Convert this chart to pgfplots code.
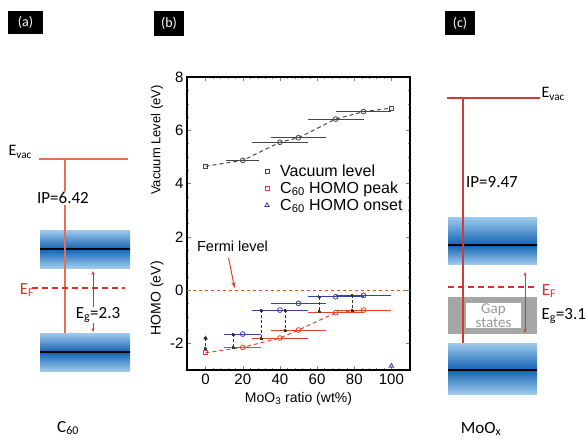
\documentclass[border=0pt]{standalone}
\usepackage{pgfplots}
\pgfplotsset{compat=1.18}
\usepackage{fontspec}
\setmainfont{Liberation Sans}
\newfontfamily\diag{Carlito}
\usetikzlibrary{arrows.meta}

\definecolor{evac}{RGB}{230,110,85}
\definecolor{evacc}{RGB}{205,60,55}
\definecolor{efred}{RGB}{215,50,40}
\definecolor{bandlight}{RGB}{160,203,236}
\definecolor{bandmid}{RGB}{18,98,180}
\definecolor{peakred}{RGB}{225,70,45}
\definecolor{onsetblue}{RGB}{55,65,170}
\definecolor{vacgray}{RGB}{70,70,70}

\newcommand{\dfont}{\diag\fontsize{17}{19}\selectfont}

\begin{document}
\begin{tikzpicture}
\useasboundingbox (0,0) rectangle (586pt,439pt);

% panels (a) and (c): drawn in pixel coordinates of the page
\begin{axis}[at={(0,0)}, anchor=south west, width=586pt, height=439pt,
  scale only axis, xmin=0, xmax=586, ymin=0, ymax=439, y dir=reverse,
  hide axis, clip=false]

% panel labels
\fill[black] (axis cs:8,11) rectangle (axis cs:43,34);
\node[white, font=\diag\fontsize{14}{16}\selectfont] at (axis cs:25.5,22.5) {(a)};
\fill[black] (axis cs:154,11) rectangle (axis cs:184,36);
\node[white, font=\diag\fontsize{14}{16}\selectfont] at (axis cs:169,23.5) {(b)};
\fill[black] (axis cs:445,11) rectangle (axis cs:475,35);
\node[white, font=\diag\fontsize{14}{16}\selectfont] at (axis cs:460,23) {(c)};

% ---- (a) C60 ----
\fill[top color=bandlight, bottom color=bandmid] (axis cs:40,230) rectangle (axis cs:130,249);
\fill[top color=bandmid, bottom color=bandlight] (axis cs:40,249) rectangle (axis cs:130,268);
\fill[top color=bandlight, bottom color=bandmid] (axis cs:40,333) rectangle (axis cs:130,352);
\fill[top color=bandmid, bottom color=bandlight] (axis cs:40,352) rectangle (axis cs:130,371);
\addplot[black, line width=1.3pt] coordinates {(40,249) (130,249)};
\addplot[black, line width=1.3pt] coordinates {(40,352) (130,352)};
\addplot[evac, line width=1.6pt] coordinates {(39,159) (128,159)};
\addplot[evac, line width=1.6pt] coordinates {(65,159) (65,333)};
\addplot[efred, line width=1.6pt, dash pattern=on 6pt off 4pt] coordinates {(32,288) (125,288)};
\addplot[efred, line width=0.9pt, {Stealth[length=4pt]}-{Stealth[length=4pt]}] coordinates {(93,271) (93,332)};
\node[anchor=west, font=\diag\fontsize{16}{18}\selectfont] at (axis cs:5,152) {E\textsubscript{vac}};
\node[font=\dfont, fill=white, inner sep=1pt] at (axis cs:63,198) {IP=6.42};
\node[efred, font=\dfont] at (axis cs:27,290) {E\textsubscript{F}};
\node[font=\dfont, fill=white, inner sep=0.5pt] at (axis cs:98,315) {E\textsubscript{g}=2.3};
\node[font=\dfont] at (axis cs:68,428) {C\textsubscript{60}};

% ---- (c) MoOx ----
\fill[top color=bandlight, bottom color=bandmid] (axis cs:448,217) rectangle (axis cs:537,245);
\fill[top color=bandmid, bottom color=bandlight] (axis cs:448,245) rectangle (axis cs:537,264);
\fill[gray!70] (axis cs:448,297) rectangle (axis cs:537,334);
\fill[white] (axis cs:466,303) rectangle (axis cs:521,328);
\fill[top color=bandlight, bottom color=bandmid] (axis cs:448,343) rectangle (axis cs:537,370);
\fill[top color=bandmid, bottom color=bandlight] (axis cs:448,370) rectangle (axis cs:537,394);
\addplot[black, line width=1.3pt] coordinates {(448,245) (537,245)};
\addplot[black, line width=1.3pt] coordinates {(448,370) (537,370)};
\addplot[evacc, line width=1.5pt] coordinates {(447,98) (540,98)};
\addplot[evacc, line width=1.5pt] coordinates {(463,98) (463,343)};
\addplot[efred, line width=1.6pt, dash pattern=on 6pt off 4pt] coordinates {(448,287) (537,287)};
\addplot[evacc, line width=1pt, {Stealth[length=4pt]}-{Stealth[length=4pt]}] coordinates {(525,272) (525,333)};
\node[anchor=west, font=\diag\fontsize{16}{18}\selectfont] at (axis cs:538,94) {E\textsubscript{vac}};
\node[font=\dfont] at (axis cs:492,182) {IP=9.47};
\node[efred, font=\dfont] at (axis cs:549,291) {E\textsubscript{F}};
\node[gray!80, font=\diag\fontsize{15}{14}\selectfont, align=center] at (axis cs:493.5,315.5) {Gap\\states};
\node[anchor=west, font=\dfont] at (axis cs:538,316) {E\textsubscript{g}=3.1};
\node[font=\dfont] at (axis cs:481,429) {MoO\textsubscript{x}};
\end{axis}

% ---- (b) energy levels vs MoO3 ratio ----
\begin{axis}[at={(187pt,69pt)}, anchor=south west, width=223pt, height=293pt,
  scale only axis, xmin=-10, xmax=110, ymin=-3, ymax=8,
  xtick={0,20,...,100}, ytick={-2,0,...,8},
  minor x tick num=4, minor y tick num=3,
  tick align=inside, major tick length=4pt, minor tick length=2pt,
  axis line style={line width=1.1pt},
  /pgf/number format/assume math mode=true,
  tick label style={font=\fontsize{15}{17}\selectfont},
  xlabel={MoO\textsubscript{3} ratio (wt\%)},
  xlabel style={font=\fontsize{14}{16}\selectfont, yshift=-1pt},
  clip=false,
  legend style={at={(rel axis cs:0.335,0.715)}, anchor=north west, draw=none,
    fill=none, font=\fontsize{16}{19}\selectfont, row sep=0pt,
    /tikz/every odd column/.append style={column sep=9pt}},
  legend cell align=left,
  error bars/error mark=none,
  error bars/error bar style={line width=1pt},
]
% Fermi level
\addplot[peakred!70!orange, line width=0.9pt, dash pattern=on 3pt off 3pt, forget plot] coordinates {(-10,0) (110,0)};

% vacuum level
\addplot[vacgray, line width=1pt, dash pattern=on 4pt off 3pt, forget plot] coordinates {(0,4.65) (20,4.87) (40,5.55) (50,5.72) (70,6.42) (85,6.7) (100,6.83)};
\addplot[only marks, mark=o, mark size=2.4pt, vacgray, thick, forget plot,
  error bars/.cd, x dir=both, x explicit] coordinates {
  (20,4.87) +- (9,0)
  (40,5.55) +- (15,0)
  (50,5.72) +- (15,0)
  (70,6.42) +- (15,0)
  (85,6.70) +- (15,0)};
\addplot[only marks, mark=square, mark size=2pt, vacgray, thick, forget plot] coordinates {(0,4.65) (100,6.83)};

% HOMO peak
\addplot[peakred, line width=1pt, dash pattern=on 4pt off 3pt, forget plot] coordinates {(0,-2.35) (20,-2.15) (40,-1.8) (50,-1.5) (70,-0.85) (85,-0.75)};
\addplot[only marks, mark=o, mark size=2.4pt, peakred, thick, forget plot,
  error bars/.cd, x dir=both, x explicit] coordinates {
  (20,-2.15) +- (10,0)
  (40,-1.80) +- (15,0)
  (50,-1.50) +- (15,0)
  (70,-0.85) +- (15,0)
  (85,-0.75) +- (15,0)};
\addplot[only marks, mark=square, mark size=2pt, peakred, thick, forget plot] coordinates {(0,-2.35)};

% HOMO onset
\addplot[only marks, mark=o, mark size=2.4pt, onsetblue, thick, forget plot,
  error bars/.cd, x dir=both, x explicit] coordinates {
  (20,-1.65) +- (10,0)
  (40,-0.75) +- (15,0)
  (50,-0.50) +- (15,0)
  (70,-0.25) +- (15,0)
  (85,-0.20) +- (15,0)};
\addplot[only marks, mark=triangle, mark size=2.6pt, onsetblue, thick, forget plot] coordinates {(100,-2.85)};
\addplot[only marks, mark=triangle*, mark size=2.2pt, black!70, forget plot] coordinates {(0,-1.8)};

% onset-peak separations
\addplot[black!80, line width=0.8pt, densely dashed, mark=square*, mark size=1pt, forget plot] coordinates {(0,-1.8) (0,-2.2)};
\addplot[black!80, line width=0.8pt, densely dashed, mark=square*, mark size=1pt, forget plot] coordinates {(15,-1.65) (15,-2.15)};
\addplot[black!80, line width=0.8pt, densely dashed, mark=square*, mark size=1pt, forget plot] coordinates {(30,-0.75) (30,-1.8)};
\addplot[black!80, line width=0.8pt, densely dashed, mark=square*, mark size=1pt, forget plot] coordinates {(43,-0.75) (43,-1.5)};
\addplot[black!80, line width=0.8pt, densely dashed, mark=square*, mark size=1pt, forget plot] coordinates {(61,-0.25) (61,-0.8)};
\addplot[black!80, line width=0.8pt, densely dashed, mark=square*, mark size=1pt, forget plot] coordinates {(79,-0.2) (79,-0.75)};

% legend
\addlegendimage{only marks, mark=square, mark size=2pt, vacgray, thick}
\addlegendentry{Vacuum level}
\addlegendimage{only marks, mark=square, mark size=2pt, peakred, thick}
\addlegendentry{C\textsubscript{60} HOMO peak}
\addlegendimage{only marks, mark=triangle, mark size=2.5pt, onsetblue, thick}
\addlegendentry{C\textsubscript{60} HOMO onset}

% labels and annotation
\node[rotate=90, font=\fontsize{13}{15}\selectfont] at (axis description cs:-0.135,0.785) {Vacuum Level (eV)};
\node[rotate=90, font=\fontsize{14}{16}\selectfont] at (axis description cs:-0.135,0.245) {HOMO (eV)};
\node[font=\fontsize{14.5}{16}\selectfont] at (axis cs:14.5,1.65) {Fermi level};
\draw[peakred, line width=1pt, -{Stealth[length=6pt]}] (axis cs:12.4,1.2) -- (axis cs:15.6,0.08);
\end{axis}
\end{tikzpicture}
\end{document}
